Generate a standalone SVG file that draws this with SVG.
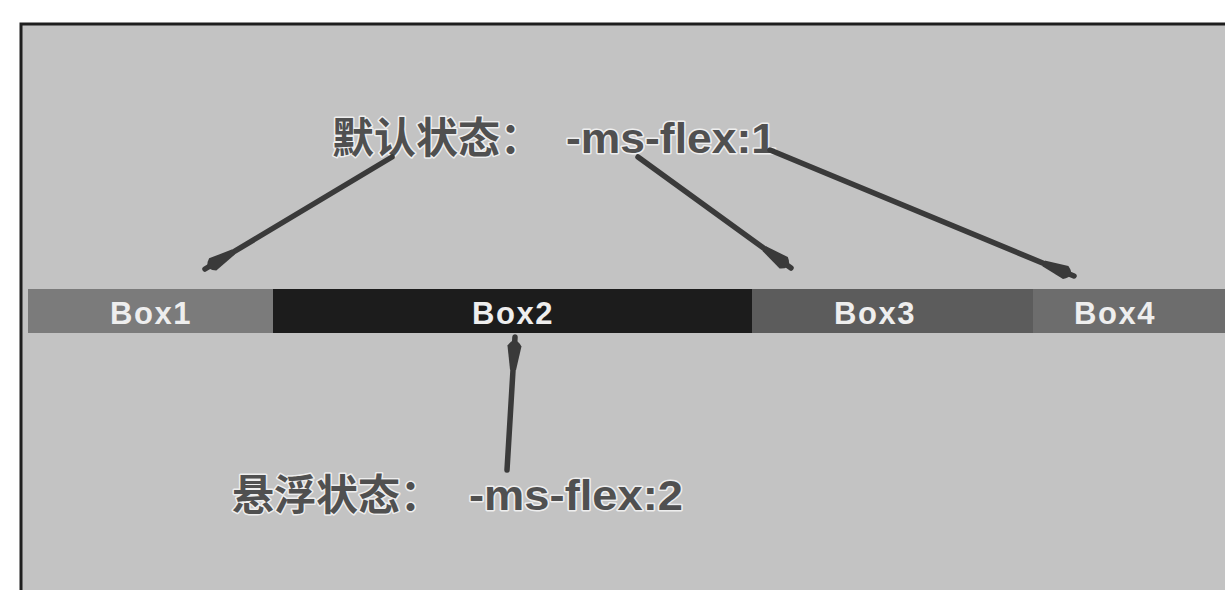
<svg xmlns="http://www.w3.org/2000/svg" width="1225" height="590" viewBox="0 0 1225 590">
  <style>
    .box-label { font-family: "Liberation Sans", Arial, sans-serif; font-weight: bold; font-size: 31px; letter-spacing: 1.5px; fill: #eeeeee; text-anchor: middle; }
    .note { font-family: "Liberation Sans", "Noto Sans CJK SC", sans-serif; font-weight: bold; font-size: 42px; fill: #505050; stroke: #eeeeee; stroke-width: 3; stroke-linejoin: round; paint-order: stroke; }
    .conn { stroke: #3a3a3a; stroke-width: 5.5; fill: none; stroke-linecap: round; marker-end: url(#head); }
    .frame { stroke: #1e1e1e; stroke-width: 3; fill: none; }
  </style>
  <defs>
    <marker id="head" markerUnits="userSpaceOnUse" viewBox="0 0 36 18" refX="33" refY="9" markerWidth="36" markerHeight="18" orient="auto">
      <path d="M0,6 L24,2 Q35,9 24,16 L0,12 Z" fill="#3a3a3a"/>
    </marker>
  </defs>

  <rect x="0" y="0" width="1225" height="590" fill="#ffffff"/>
  <rect x="21" y="24" width="1204" height="566" fill="#c3c3c3"/>
  <path class="frame" d="M21,590 L21,24 L1225,24"/>

  <g id="box1">
    <rect x="28" y="289" width="245" height="44" fill="#7b7b7b"/>
    <text class="box-label" x="151" y="324">Box1</text>
  </g>
  <g id="box2">
    <rect x="273" y="289" width="479" height="44" fill="#1c1c1c"/>
    <text class="box-label" x="513" y="324">Box2</text>
  </g>
  <g id="box3">
    <rect x="752" y="289" width="281" height="44" fill="#5c5c5c"/>
    <text class="box-label" x="875" y="324">Box3</text>
  </g>
  <g id="box4">
    <rect x="1033" y="289" width="192" height="44" fill="#6d6d6d"/>
    <text class="box-label" x="1115" y="324">Box4</text>
  </g>

  <g id="label-default">
    <text class="note" x="332" y="153">默认状态：<tspan x="566" textLength="210" lengthAdjust="spacingAndGlyphs">-ms-flex:1</tspan></text>
  </g>
  <g id="label-hover">
    <text class="note" x="232" y="510">悬浮状态：<tspan x="469" textLength="214" lengthAdjust="spacingAndGlyphs">-ms-flex:2</tspan></text>
  </g>

  <g id="connectors">
    <line class="conn" x1="392" y1="157" x2="205" y2="269"/>
    <line class="conn" x1="638" y1="157" x2="791" y2="268"/>
    <line class="conn" x1="770" y1="150" x2="1074" y2="276"/>
    <line class="conn" x1="507" y1="470" x2="515" y2="337"/>
  </g>
</svg>
